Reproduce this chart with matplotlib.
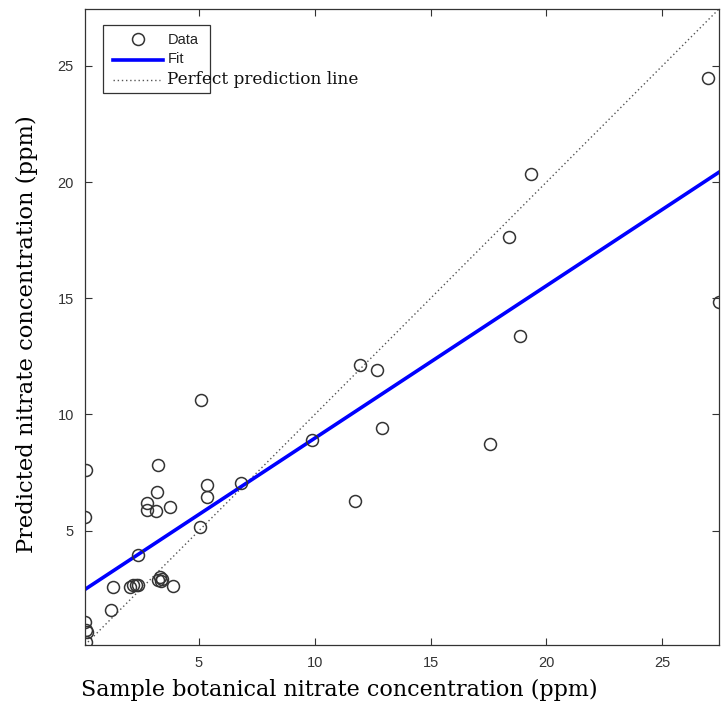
import matplotlib
matplotlib.use("Agg")
import matplotlib.pyplot as plt
import numpy as np
from matplotlib.lines import Line2D
from matplotlib.patches import Rectangle

# ---- data ----
sample_x = [26.99, 27.45, 19.33, 18.38, 18.85, 17.55, 11.97, 12.69, 12.91, 11.75,
            9.89, 5.10, 5.33, 5.33, 6.80, 5.04, 3.24, 3.19, 2.76, 2.76,
            3.14, 3.74, 2.36, 0.11, 0.09, 1.29, 1.22, 2.01, 2.16, 2.27,
            2.37, 3.31, 3.41, 3.24, 3.35, 3.89, 0.08, 0.14, 0.18, 0.11]
predicted_y = [24.48, 14.85, 20.34, 17.63, 13.36, 8.75, 12.14, 11.90, 9.43, 6.26,
               8.91, 10.63, 6.97, 6.44, 7.04, 5.14, 7.84, 6.65, 6.18, 5.89,
               5.83, 6.00, 3.97, 7.59, 5.60, 2.56, 1.58, 2.59, 2.66, 2.67,
               2.66, 2.99, 2.92, 2.88, 2.84, 2.63, 1.05, 0.72, 0.66, 0.23]
fit_slope = 0.656
fit_intercept = 2.42
axis_limits = [0.08, 27.45]
x_ticks = [5, 10, 15, 20, 25]
y_ticks = [5, 10, 15, 20, 25]
legend_labels = ["Data", "Fit", "Perfect prediction line"]
x_label = "Sample botanical nitrate concentration (ppm)"
y_label = "Predicted nitrate concentration (ppm)"

W, H = 723, 704
fig = plt.figure(figsize=(W / 100, H / 100), dpi=100)
ax = fig.add_axes([85 / W, 1 - 645 / H, 634 / W, 636 / H])

lo, hi = axis_limits
# perfect prediction line
ax.plot([lo, hi], [lo, hi], linestyle=(0, (1, 2)), color="#555555", lw=1.0, zorder=1)
# fit line
fx = np.array([lo, hi])
ax.plot(fx, fit_slope * fx + fit_intercept, color="#0000ff", lw=2.6, zorder=2)
# data
ax.plot(sample_x, predicted_y, linestyle="none", marker="o", markersize=8.6,
        markerfacecolor="none", markeredgecolor="#333333", markeredgewidth=1.1, zorder=3)

ax.set_xlim(lo, hi)
ax.set_ylim(lo, hi)
ax.set_xticks(x_ticks)
ax.set_yticks(y_ticks)
ax.tick_params(direction="in", length=5, width=0.8, top=True, right=True,
               labelsize=10.5, colors="#333333", pad=8)
for lab in ax.get_xticklabels() + ax.get_yticklabels():
    lab.set_fontfamily("Liberation Sans")
    lab.set_color("#333333")
for s in ax.spines.values():
    s.set_color("#333333")
    s.set_linewidth(0.9)

serif = "DejaVu Serif"
renderer = fig.canvas.get_renderer()


def fit_text(t, target_px):
    for _ in range(3):
        w = t.get_window_extent(renderer).width
        t.set_fontsize(t.get_fontsize() * target_px / w)


def fy(py):
    return 1 - py / H


xl = fig.text(339 / W, fy(696), x_label, fontfamily=serif, fontsize=15,
              ha="center", va="baseline", color="black")
fit_text(xl, 517)
yl = fig.text(26.5 / W, fy(334), y_label, fontfamily=serif, fontsize=15,
              ha="center", va="center", rotation=90, color="black")
# fit y label height (rotated: use height of extent)
for _ in range(3):
    h = yl.get_window_extent(renderer).height
    yl.set_fontsize(yl.get_fontsize() * 438 / h)

# ---- manual legend (MATLAB-style, with overflowing last entry) ----
def ax_xy(px, py):
    return ((px - 85) / 634, (645 - py) / 636)

x0, y0 = ax_xy(103, 93)
x1, y1 = ax_xy(210, 25)
ax.add_patch(Rectangle((x0, y0), x1 - x0, y1 - y0, transform=ax.transAxes,
                       facecolor="white", edgecolor="#333333", lw=0.9, zorder=5))
mx, my = ax_xy(137.5, 38.5)
ax.add_line(Line2D([mx], [my], marker="o", markersize=8.6, markerfacecolor="none",
                   markeredgecolor="#333333", markeredgewidth=1.1, transform=ax.transAxes, zorder=6))
tx, ty = ax_xy(168, 40)
ax.text(tx, ty, legend_labels[0], transform=ax.transAxes, fontfamily="Liberation Sans",
        fontsize=10.5, va="center", ha="left", color="#222222", zorder=6)
lx0, ly = ax_xy(112.5, 60)
lx1, _ = ax_xy(162.5, 60)
ax.add_line(Line2D([lx0, lx1], [ly, ly], color="#0000ff", lw=2.6, transform=ax.transAxes, zorder=6))
tx, ty = ax_xy(168, 59)
ax.text(tx, ty, legend_labels[1], transform=ax.transAxes, fontfamily="Liberation Sans",
        fontsize=10.5, va="center", ha="left", color="#222222", zorder=6)
lx0, ly = ax_xy(112.5, 80)
lx1, _ = ax_xy(160, 80)
ax.add_line(Line2D([lx0, lx1], [ly, ly], color="#555555", lw=1.0, linestyle=(0, (1, 2)),
                   transform=ax.transAxes, zorder=6))
tx, ty = ax_xy(167, 80)
lt = ax.text(tx, ty, legend_labels[2], transform=ax.transAxes, fontfamily=serif,
             fontsize=11, va="center", ha="left", color="#111111", zorder=6)
fit_text(lt, 193)

fig.savefig("out.png", dpi=100)
